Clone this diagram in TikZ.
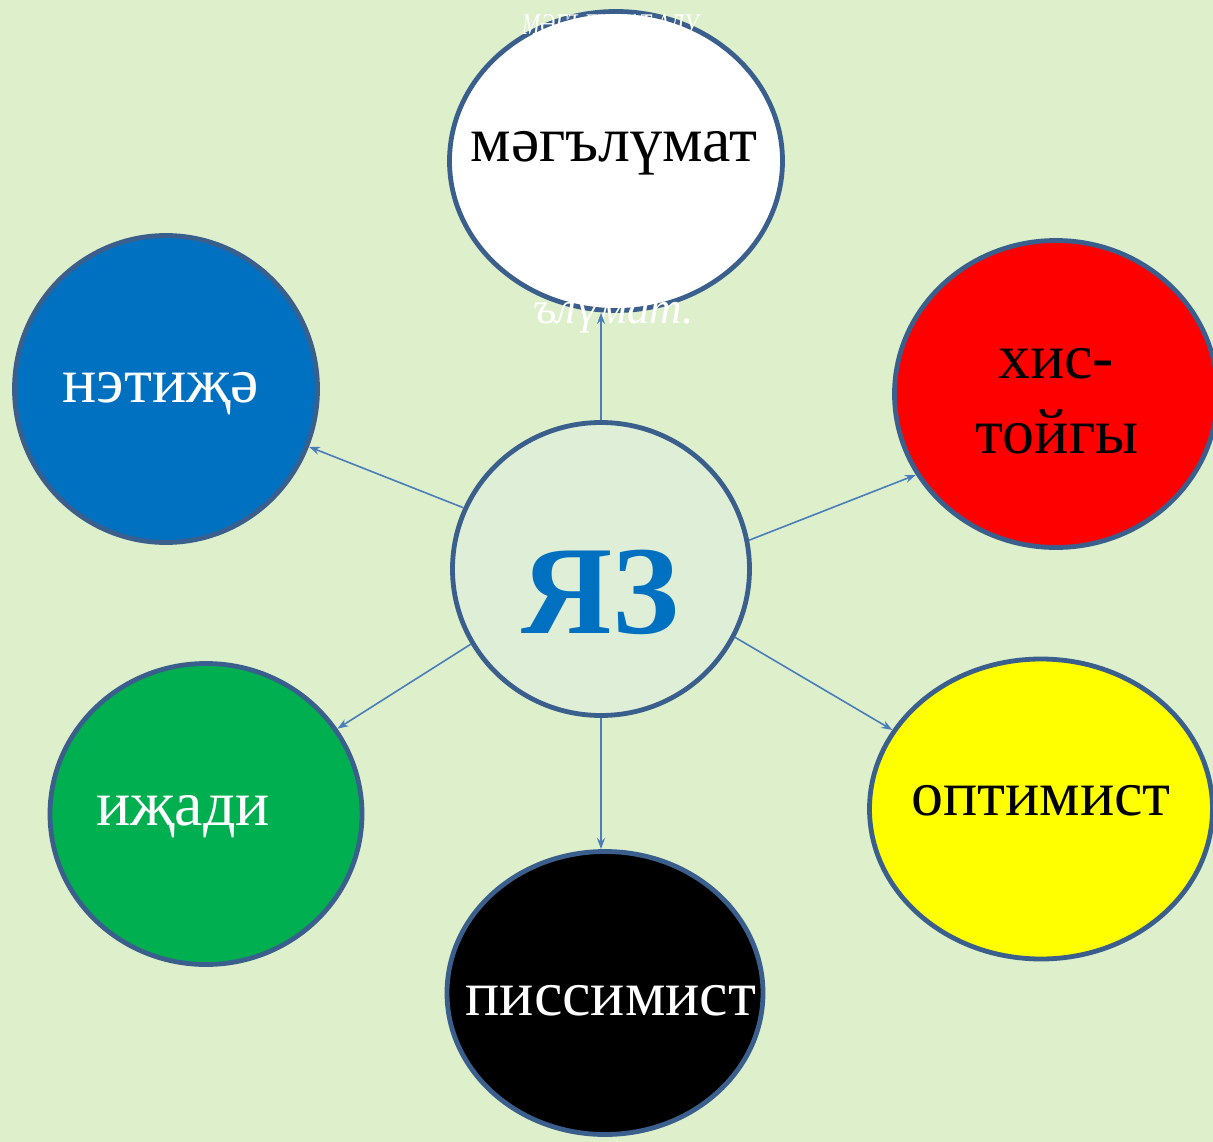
\documentclass[tikz,border=0pt]{standalone}
\usepackage{fontspec}
\setmainfont{Liberation Serif}
\usetikzlibrary{shapes.geometric,arrows.meta}
\definecolor{bgc}{HTML}{DDEFCB}
\definecolor{ctrc}{HTML}{DEEED7}
\definecolor{edgec}{HTML}{3A5F8C}
\definecolor{arrc}{HTML}{4A7EBB}
\definecolor{bluec}{HTML}{0070C0}
\definecolor{redc}{HTML}{FF0000}
\definecolor{yelc}{HTML}{FFFF00}
\definecolor{grnc}{HTML}{00B050}
\begin{document}
\begin{tikzpicture}[x=1pt,y=-1pt,
  bub/.style={ellipse, draw=edgec, line width=4.8pt, inner sep=0pt},
  lbl/.style={anchor=base, inner sep=0pt, font=\fontsize{64}{76}\selectfont},
  arr/.style={draw=arrc, line width=1.6pt, -{Stealth[length=11pt,width=8pt]}},
  ghost/.style={anchor=base west, inner sep=0pt, text=white, font=\fontsize{45}{54}\selectfont\itshape}]
\useasboundingbox (0,0) rectangle (1213,1142);
\clip (0,0) rectangle (1213,1142);
\fill[bgc] (0,0) rectangle (1213,1142);
% bubbles
\node[bub, fill=white, minimum width=333pt, minimum height=299pt] (W) at (616,161) {};
\node[bub, fill=redc, minimum width=323pt, minimum height=307pt] (R) at (1056,394) {};
\node[bub, fill=yelc, minimum width=343pt, minimum height=300pt] (Y) at (1041,809) {};
\node[bub, fill=bluec, minimum width=303pt, minimum height=307pt] (B) at (166,389) {};
\node[bub, fill=grnc, minimum width=312pt, minimum height=301pt] (G) at (206,814) {};
\node[bub, fill=black, minimum width=316pt, minimum height=283pt] (K) at (605,993) {};
\node[bub, fill=ctrc, minimum width=297pt, minimum height=293pt] (C) at (601,569) {};
% labels
\node[lbl] (tW) at (614,162) {мәгълүмат};
\node[lbl] (tR1) at (1056,378) {хис-};
\node[lbl] (tR2) at (1057,453) {тойгы};
\node[lbl] (tY) at (1041,815) {оптимист};
\node[lbl, text=white] (tB) at (161,402) {нэтиҗә};
\node[lbl, text=white] (tG) at (183,825) {иҗади};
\node[lbl, text=white] (tK) at (611,1015) {писсимист};
\node[anchor=base, inner sep=0pt, text=bluec, font=\fontsize{126}{146}\selectfont\bfseries] (tC) at (600,633) {ЯЗ};
% faint white text
\node[ghost, font=\fontsize{30}{36}\selectfont\itshape] (g1) at (522,35) {\scalebox{0.72}[1]{МӘГЪЛҮМАТ АЛУ}};
\node[ghost] (g2) at (533,323) {ълүмат.};
% connectors
\draw[arr] (C.north) -- (C.north |- W.south);
\draw[arr] (C.156) -- (B.-22);
\draw[arr] (C.11.6) -- (R.-150.5);
\draw[arr] (C.-27) -- (Y.152.8);
\draw[arr] (C.-150) -- (G.33);
\draw[arr] (C.south) -- (C.south |- K.north);
\end{tikzpicture}
\end{document}
